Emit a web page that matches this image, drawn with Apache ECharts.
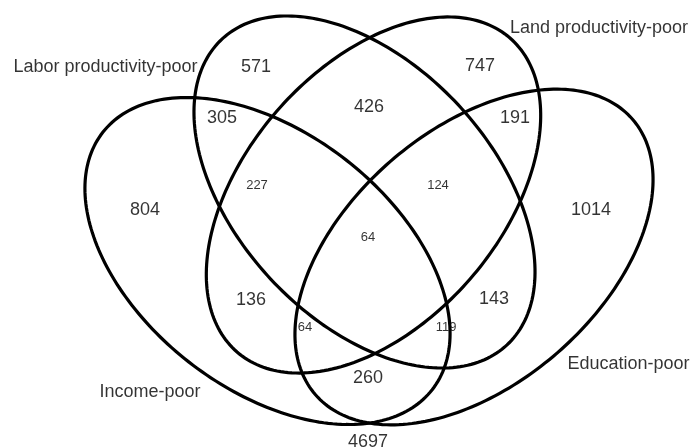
<!DOCTYPE html>
<html>
<head>
<meta charset="utf-8">
<script src="https://cdn.jsdelivr.net/npm/echarts@6/dist/echarts.min.js"></script>
<style>
  html, body { margin: 0; padding: 0; background: #fff; }
  #chart { width: 694px; height: 448px; }
</style>
</head>
<body>
<div id="chart"></div>
<script>
// the four poverty dimensions
const setNames = ['Labor productivity-poor', 'Land productivity-poor', 'Income-poor', 'Education-poor'];

// counts per region of the Venn diagram (last one = outside every set)
const regionCounts = [571, 747, 305, 426, 191, 804, 227, 124, 1014, 64, 136, 143, 64, 119, 260, 4697];
// crowded inner regions get the smaller font
const smallRegion = [false, false, false, false, false, false, true, true, false, true, false, false, true, true, false, false];

// --- layout (plot units: 0..694 across, 0..448 down) ---
// cx, cy, semi-major, semi-minor, tilt in degrees
const ellipseShapes = [
  [364.5, 192, 209, 128, 47],
  [373.5, 195, 208, 128, -49],
  [267.5, 261, 209, 128, 38],
  [474, 257, 210, 127, -41]
];
const regionAnchors = [
  [256, 67], [480, 66], [222, 118], [369, 107], [515, 118], [145, 210],
  [257, 185], [438, 185], [591, 210], [368, 237], [251, 300], [494, 299],
  [305, 327], [446, 327], [368, 378], [368, 442]
];
const setLabelAnchors = [[105.5, 67], [599, 28], [150, 392], [628.5, 364]];

const FONT = '"Liberation Sans", Arial, sans-serif';

const chart = echarts.init(document.getElementById('chart'));

const textSeries = (data) => ({
  type: 'scatter',
  symbolSize: 0,
  silent: true,
  data,
  label: {
    show: true,
    position: 'inside',
    formatter: '{b}',
    color: '#000',
    fontFamily: FONT
  }
});

chart.setOption({
  animation: false,
  grid: { left: 0, right: 0, top: 0, bottom: 0 },
  xAxis: { type: 'value', min: 0, max: 694, show: false },
  yAxis: { type: 'value', min: 0, max: 448, inverse: true, show: false },
  series: [
    {
      type: 'custom',
      silent: true,
      data: ellipseShapes,
      encode: { x: 0, y: 1 },
      renderItem: (params, api) => {
        const cx = api.value(0), cy = api.value(1);
        const a = api.value(2), b = api.value(3);
        const th = api.value(4) * Math.PI / 180;
        const pts = [];
        for (let i = 0; i < 240; i++) {
          const t = (i / 240) * Math.PI * 2;
          const x = cx + a * Math.cos(t) * Math.cos(th) - b * Math.sin(t) * Math.sin(th);
          const y = cy + a * Math.cos(t) * Math.sin(th) + b * Math.sin(t) * Math.cos(th);
          pts.push(api.coord([x, y]));
        }
        return {
          type: 'polygon',
          shape: { points: pts },
          style: { fill: 'none', stroke: '#000', lineWidth: 3.2 }
        };
      }
    },
    textSeries(regionCounts.map((c, i) => ({
      value: regionAnchors[i],
      name: String(c),
      label: { fontSize: smallRegion[i] ? 13 : 18 }
    }))),
    textSeries(setNames.map((n, i) => ({
      value: setLabelAnchors[i],
      name: n,
      label: { fontSize: 18 }
    })))
  ]
});
</script>
</body>
</html>
